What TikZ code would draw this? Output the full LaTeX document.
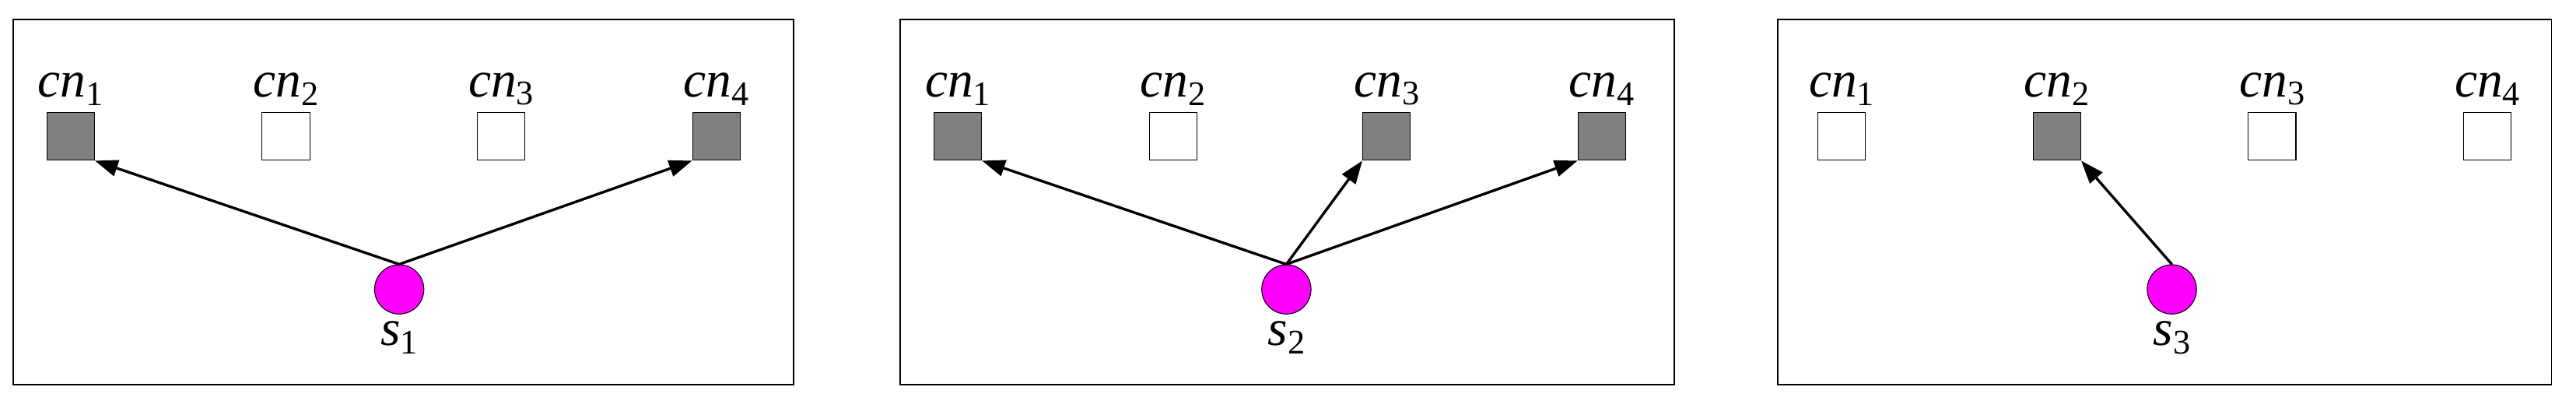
\documentclass[tikz,border=0pt]{standalone}
\usepackage{fontspec}
\setmainfont{Liberation Serif}
\usetikzlibrary{arrows.meta}
\definecolor{pink}{RGB}{255,0,255}
\newcommand{\lab}[2]{\textit{#1}\raisebox{-0.35ex}{\fontsize{21}{22}\selectfont #2}}

\begin{document}
\begin{tikzpicture}[x=1pt,y=-1pt,
    panel/.style = {draw=black, line width=0.8pt},
    cn/.style = {rectangle, draw=black, line width=0.5pt, minimum width=29pt, minimum height=29pt, inner sep=0pt, fill=white},
    used/.style = {cn, fill=gray},
    sensor/.style = {circle, draw=black, line width=0.5pt, fill=pink, minimum size=30pt, inner sep=0pt},
    lbl/.style = {font=\fontsize{31}{33}\selectfont, inner sep=1pt},
    link/.style = {-{Triangle[length=14pt,width=10pt]}, line width=1.6pt}
]
  \useasboundingbox (0,0) rectangle (1568,248);

  % panels
  \draw[panel] (8,12) rectangle (483,234);
  \draw[panel] (548,12) rectangle (1019,234);
  \draw[panel] (1082,12) rectangle (1553,234);

  % panel 1
  \node (a1) [used] at (43,83) {};
  \node (a2) [cn]   at (174,83) {};
  \node (a3) [cn]   at (305,83) {};
  \node (a4) [used] at (436,83) {};
  \node (s1) [sensor] at (243,176) {};

  % panel 2
  \node (b1) [used] at (583,83) {};
  \node (b2) [cn]   at (714,83) {};
  \node (b3) [used] at (844,83) {};
  \node (b4) [used] at (975,83) {};
  \node (s2) [sensor] at (783,176) {};

  % panel 3
  \node (c1) [cn]   at (1121,83) {};
  \node (c2) [used] at (1252,83) {};
  \node (c3) [cn]   at (1383,83) {};
  \node (c4) [cn]   at (1514,83) {};
  \node (s3) [sensor] at (1322,176) {};

  % labels
  \foreach \p in {a,b,c}
    \foreach \i in {1,...,4}
      \node[lbl, above=3pt] at (\p\i.north) {\lab{cn}{\i}};
  \node[lbl, below=3pt] at (s1.south) {\lab{s}{1}};
  \node[lbl, below=3pt] at (s2.south) {\lab{s}{2}};
  \node[lbl, below=3pt] at (s3.south) {\lab{s}{3}};

  % links
  \draw[link] (s1.north) -- (a1.south east);
  \draw[link] (s1.north) -- (a4.south west);
  \draw[link] (s2.north) -- (b1.south east);
  \draw[link] (s2.north) -- (b3.south west);
  \draw[link] (s2.north) -- (b4.south west);
  \draw[link] (s3.north) -- (c2.south east);

\end{tikzpicture}
\end{document}
